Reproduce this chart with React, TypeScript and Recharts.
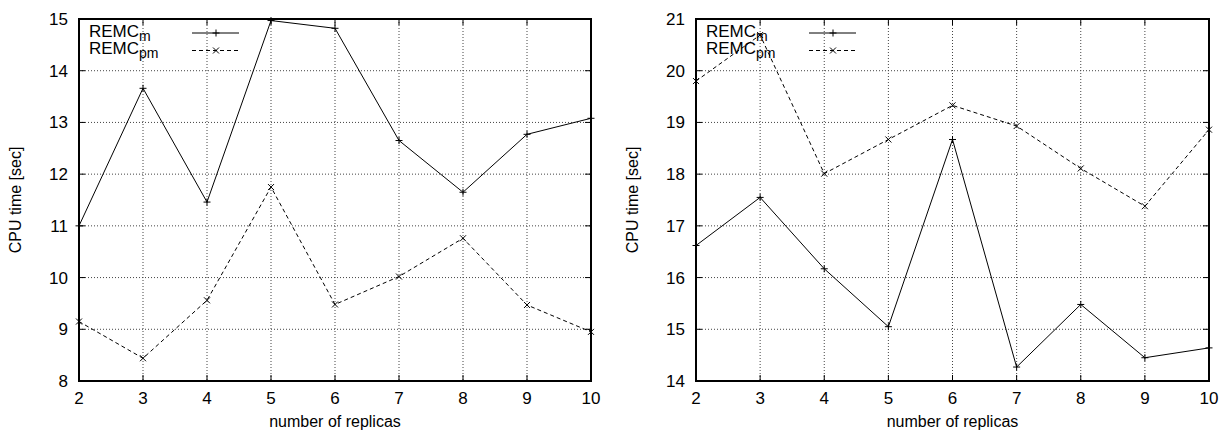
import React from 'react';
import { LineChart, Line, XAxis, YAxis, CartesianGrid } from 'recharts';

const FONT = '"Liberation Sans", Arial, Helvetica, sans-serif';

const REPLICAS = [2, 3, 4, 5, 6, 7, 8, 9, 10];
const LEFT_REMC_M = [11.0, 13.66, 11.46, 14.97, 14.82, 12.65, 11.65, 12.77, 13.08];
const LEFT_REMC_PM = [9.15, 8.44, 9.56, 11.75, 9.48, 10.02, 10.76, 9.47, 8.95];
const RIGHT_REMC_M = [16.62, 17.55, 16.17, 15.05, 18.67, 14.27, 15.48, 14.45, 14.64];
const RIGHT_REMC_PM = [19.8, 20.69, 18.01, 18.67, 19.33, 18.93, 18.11, 17.38, 18.86];
const LEFT_Y_TICKS = [8, 9, 10, 11, 12, 13, 14, 15];
const RIGHT_Y_TICKS = [14, 15, 16, 17, 18, 19, 20, 21];
const X_TITLE = 'number of replicas';
const Y_TITLE = 'CPU time [sec]';
const SERIES_M = 'REMC';
const SUB_M = 'm';
const SUB_PM = 'pm';

const HEIGHT = 432;
const TOP = 19;
const XAXIS_H = 51;
const TICK_LEN = 6;

const PlusMark = ({ cx, cy }: any) => (
  <g stroke="#000" strokeWidth={1}>
    <line x1={cx - 3.5} x2={cx + 3.5} y1={cy} y2={cy} />
    <line x1={cx} x2={cx} y1={cy - 3.5} y2={cy + 3.5} />
  </g>
);

const CrossMark = ({ cx, cy }: any) => (
  <g stroke="#000" strokeWidth={1}>
    <line x1={cx - 3} x2={cx + 3} y1={cy - 3} y2={cy + 3} />
    <line x1={cx - 3} x2={cx + 3} y1={cy + 3} y2={cy - 3} />
  </g>
);

type PanelProps = {
  mData: number[];
  pmData: number[];
  yTicks: number[];
  offsetLeft: number;
  width: number;
  yAxisWidth: number;
  marginRight: number;
};

function Panel({ mData, pmData, yTicks, offsetLeft, width, yAxisWidth, marginRight }: PanelProps) {
  const data = REPLICAS.map((r, i) => ({ r, m: mData[i], pm: pmData[i] }));
  const plotL = yAxisWidth;
  const plotR = width - marginRight;
  const plotT = TOP;
  const plotB = HEIGHT - XAXIS_H;
  const yDomain = [yTicks[0], yTicks[yTicks.length - 1]];
  const xDomain = [REPLICAS[0], REPLICAS[REPLICAS.length - 1]];

  const XTick = (p: any) => {
    const { x, y, payload } = p;
    return (
      <g>
        <text x={x} y={y + 23} textAnchor="middle" fontSize={17} fontFamily={FONT} fill="#000">
          {payload.value}
        </text>
        <line x1={x} x2={x} y1={plotB} y2={plotB - TICK_LEN} stroke="#000" strokeWidth={1} />
        <line x1={x} x2={x} y1={plotT} y2={plotT + TICK_LEN} stroke="#000" strokeWidth={1} />
      </g>
    );
  };

  const YTick = (p: any) => {
    const { x, y, payload } = p;
    return (
      <g>
        <text x={x - 11} y={y + 6} textAnchor="end" fontSize={17} fontFamily={FONT} fill="#000">
          {payload.value}
        </text>
        <line x1={plotL} x2={plotL + TICK_LEN} y1={y} y2={y} stroke="#000" strokeWidth={1} />
        <line x1={plotR} x2={plotR - TICK_LEN} y1={y} y2={y} stroke="#000" strokeWidth={1} />
      </g>
    );
  };

  const YTitle = (p: any) => {
    const vb = p.viewBox;
    const cx = vb.x + vb.width - 64;
    const cy = vb.y + vb.height / 2;
    return (
      <text
        x={cx}
        y={cy}
        transform={`rotate(-90 ${cx} ${cy})`}
        textAnchor="middle"
        dominantBaseline="central"
        fontSize={16}
        fontFamily={FONT}
        fill="#000"
      >
        {Y_TITLE}
      </text>
    );
  };

  const XTitle = (p: any) => {
    const vb = p.viewBox;
    return (
      <text x={vb.x + vb.width / 2} y={vb.y + 46} textAnchor="middle" fontSize={16} fontFamily={FONT} fill="#000">
        {X_TITLE}
      </text>
    );
  };

  const legX = plotL + 10;
  const lineX1 = plotL + 113;
  const lineX2 = plotL + 160;
  const markX = plotL + 137;

  return (
    <div style={{ position: 'absolute', left: offsetLeft, top: 0, width, height: HEIGHT }}>
      <LineChart
        width={width}
        height={HEIGHT}
        data={data}
        margin={{ top: TOP, right: marginRight, left: 0, bottom: 0 }}
      >
        <CartesianGrid stroke="#444" strokeDasharray="1 2" strokeWidth={1} />
        <XAxis
          type="number"
          dataKey="r"
          domain={xDomain}
          ticks={REPLICAS}
          interval={0}
          height={XAXIS_H}
          tickSize={0}
          tickMargin={0}
          axisLine={false}
          tickLine={false}
          tick={XTick}
          label={{ content: XTitle } as any}
        />
        <YAxis
          type="number"
          domain={yDomain}
          ticks={yTicks}
          interval={0}
          width={yAxisWidth}
          tickSize={0}
          tickMargin={0}
          axisLine={false}
          tickLine={false}
          tick={YTick}
          label={{ content: YTitle } as any}
        />
        <Line
          type="linear"
          dataKey="m"
          stroke="#000"
          strokeWidth={1}
          isAnimationActive={false}
          dot={(p: any) => <PlusMark key={`m-${p.index}`} cx={p.cx} cy={p.cy} />}
          activeDot={false}
        />
        <Line
          type="linear"
          dataKey="pm"
          stroke="#000"
          strokeWidth={1}
          strokeDasharray="4 3"
          isAnimationActive={false}
          dot={(p: any) => <CrossMark key={`pm-${p.index}`} cx={p.cx} cy={p.cy} />}
          activeDot={false}
        />
      </LineChart>
      <svg
        width={width}
        height={HEIGHT}
        style={{ position: 'absolute', left: 0, top: 0, pointerEvents: 'none', zIndex: 5 }}
      >
        <g stroke="#000" strokeWidth={2} strokeLinecap="square">
          <line x1={plotL} x2={plotR} y1={plotT} y2={plotT} />
          <line x1={plotL} x2={plotR} y1={plotB} y2={plotB} />
          <line x1={plotL} x2={plotL} y1={plotT} y2={plotB} />
          <line x1={plotR} x2={plotR} y1={plotT} y2={plotB} />
        </g>
        <text x={legX} y={37} fontSize={17} fontFamily={FONT} fill="#000">
          {SERIES_M}
          <tspan dy={4} fontSize={14} fill="#000">{SUB_M}</tspan>
        </text>
        <text x={legX} y={54} fontSize={17} fontFamily={FONT} fill="#000">
          {SERIES_M}
          <tspan dy={4} fontSize={14} fill="#000">{SUB_PM}</tspan>
        </text>
        <line x1={lineX1} x2={lineX2} y1={33} y2={33} stroke="#000" strokeWidth={1} />
        <PlusMark cx={markX} cy={33} />
        <line x1={lineX1} x2={lineX2} y1={50.5} y2={50.5} stroke="#000" strokeWidth={1} strokeDasharray="4 3" />
        <CrossMark cx={markX} cy={50.5} />
      </svg>
    </div>
  );
}

export default function App() {
  return (
    <div style={{ position: 'absolute', left: 0, top: 0, width: 1221, height: HEIGHT, background: '#fff' }}>
      <Panel
        mData={LEFT_REMC_M}
        pmData={LEFT_REMC_PM}
        yTicks={LEFT_Y_TICKS}
        offsetLeft={0}
        width={610}
        yAxisWidth={79}
        marginRight={19}
      />
      <Panel
        mData={RIGHT_REMC_M}
        pmData={RIGHT_REMC_PM}
        yTicks={RIGHT_Y_TICKS}
        offsetLeft={610}
        width={611}
        yAxisWidth={86}
        marginRight={12}
      />
    </div>
  );
}
